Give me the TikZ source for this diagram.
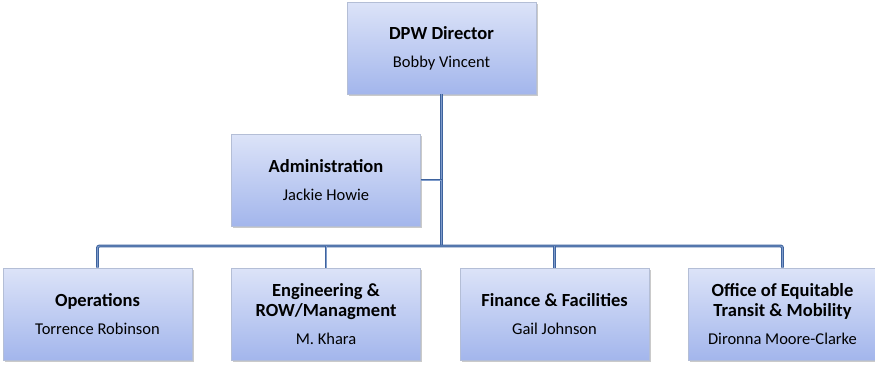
\documentclass[tikz,border=0pt]{standalone}
\usepackage{fontspec}
\setmainfont{Carlito}
\usetikzlibrary{shadows}
\definecolor{boxtop}{HTML}{DCE3F8}
\definecolor{boxbot}{HTML}{A3B6EC}
\definecolor{boxline}{HTML}{B4BED6}
\definecolor{wire}{HTML}{3E639E}
\definecolor{wirein}{HTML}{7F9CCB}
\tikzset{
  unit/.style={draw=boxline, line width=0.6pt, top color=boxtop, bottom color=boxbot,
    minimum width=189pt, minimum height=92pt, align=center, inner sep=2pt,
    font=\fontsize{18.5}{20}\selectfont\bfseries,
    drop shadow={shadow xshift=1.5pt, shadow yshift=-2pt, fill=black!35, opacity=0.6}},
  wire/.style={draw=wire, line width=1pt, double=wirein, double distance=0.9pt, rounded corners=2pt},
}
\newcommand{\namefont}{\fontsize{16.5}{20}\selectfont\mdseries}
\begin{document}
\begin{tikzpicture}[x=1pt,y=-1pt]
			\useasboundingbox (0,0) rectangle (875,368);
			\node[unit] (D) at (441.5,48) {DPW Director\\[8pt]\namefont Bobby Vincent};
			\node[unit] (Adm) at (326,180) {Administration\\[8pt]\namefont Jackie Howie};
			\node[unit] (Ops) at (97.5,314) {Operations\\[8pt]\namefont Torrence Robinson};
			\node[unit] (Eng) at (326,314) {Engineering \&\\ROW/Managment\\[8pt]\namefont M. Khara};
			\node[unit] (Fin) at (554.5,314) {Finance \& Facilities\\[8pt]\namefont Gail Johnson};
			\node[unit] (Off) at (782.5,314) {Office of Equitable\\Transit \& Mobility\\[8pt]\namefont Dironna Moore-Clarke};
			\coordinate (J) at (441.5,246);
			
			\path[wire] (D.south)--(J);
			\path[wire] (Adm.east)--(Adm.east -| D.south);
			\path[wire] (Ops.north)--(Ops.north |- J)--(Off.north |- J)--(Off.north);
			\path[wire] (Eng.north)--(Eng.north |- J);
			\path[wire] (Fin.north)--(Fin.north |- J);
		\end{tikzpicture}
\end{document}
